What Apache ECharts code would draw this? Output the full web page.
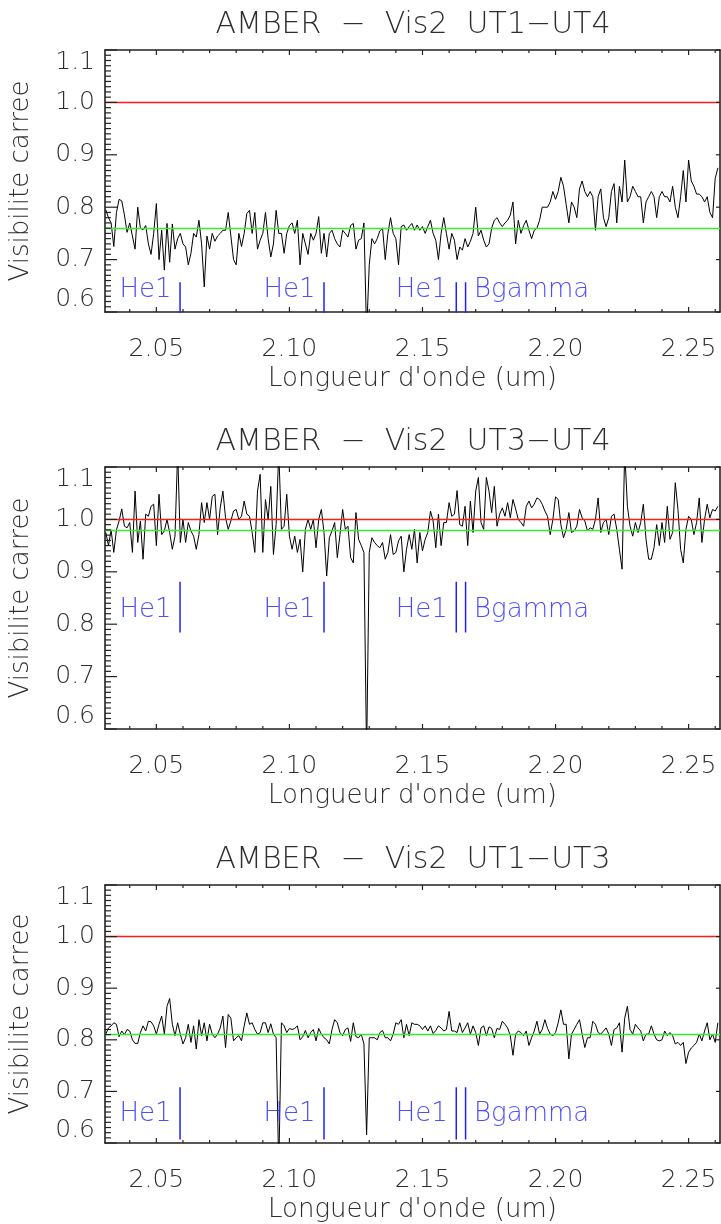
<!DOCTYPE html>
<html><head><meta charset="utf-8">
<script src="https://cdn.jsdelivr.net/npm/echarts@6/dist/echarts.min.js"></script>
<style>html,body{margin:0;padding:0;background:#fff}#c{width:721px;height:1224px}</style>
</head><body><div id="c"></div>
<script>
// spectral channel grid (wavelength, um)
const waveStart = 2.031, waveStep = 0.001;

const titles = ['AMBER  \u2212  Vis2  UT1\u2212UT4', 'AMBER  \u2212  Vis2  UT3\u2212UT4', 'AMBER  \u2212  Vis2  UT1\u2212UT3'];
const xTitle = "Longueur d'onde (um)";
const yTitle = 'Visibilite carree';

const vis2UT1UT4 = [
0.795,0.78,0.77,0.725,0.79,0.815,0.812,0.785,0.752,0.77,
0.745,0.72,0.80,0.76,0.757,0.765,0.73,0.71,0.75,0.807,
0.70,0.756,0.68,0.769,0.695,0.768,0.72,0.74,0.75,0.73,
0.724,0.69,0.712,0.75,0.743,0.775,0.73,0.648,0.745,0.72,
0.75,0.735,0.745,0.75,0.756,0.756,0.79,0.745,0.70,0.69,
0.75,0.725,0.75,0.788,0.794,0.75,0.79,0.72,0.737,0.75,
0.79,0.74,0.705,0.73,0.794,0.75,0.75,0.712,0.75,0.765,
0.77,0.75,0.775,0.69,0.75,0.73,0.71,0.75,0.737,0.75,
0.782,0.712,0.75,0.705,0.75,0.756,0.74,0.73,0.724,0.756,
0.75,0.743,0.765,0.769,0.72,0.737,
0.74,0.77,0.56,0.69,0.74,0.73,0.74,0.755,0.76,0.70,
0.75,0.78,0.75,0.74,0.69,0.763,0.766,0.756,0.763,0.769,
0.756,0.766,0.756,0.763,0.75,0.763,0.775,0.75,0.737,0.70,
0.75,0.78,0.75,0.72,0.75,0.737,0.70,0.724,0.718,0.74,
0.724,0.735,0.75,0.80,0.745,0.756,0.737,0.724,0.73,0.76,
0.775,0.78,0.77,0.763,0.77,0.775,0.785,0.81,0.73,0.775,
0.75,0.765,0.775,0.756,0.74,0.756,0.76,0.775,0.80,0.80,
0.80,0.81,0.83,0.815,0.83,0.857,0.84,0.805,0.77,0.81,
0.80,0.78,0.835,0.85,0.83,0.82,0.83,0.82,0.756,0.82,
0.835,0.78,0.763,0.78,0.83,0.845,0.77,0.84,0.81,0.89,
0.81,0.82,0.84,0.83,0.82,0.82,0.77,0.81,0.82,0.83,
0.82,0.78,0.82,0.83,0.82,0.82,0.81,0.84,0.80,0.78,
0.82,0.87,0.81,0.89,0.85,0.84,0.825,0.825,0.82,0.81,
0.82,0.79,0.78,0.855,0.875
];

const vis2UT3UT4 = [
0.975,0.95,0.98,0.937,0.98,0.997,1.02,0.987,0.984,0.994,
0.937,1.054,0.956,0.997,0.924,1.01,1.006,1.025,1.029,0.95,
1.048,0.971,0.978,1.0,0.975,0.943,0.968,1.13,0.956,1.0,
0.956,0.994,0.978,0.968,0.943,0.971,1.032,0.994,1.032,1.0,
1.044,1.048,0.971,1.022,1.054,1.003,0.981,0.997,1.016,1.019,
1.0,1.006,1.035,1.01,1.006,0.975,0.937,1.054,1.086,0.937,
1.038,1.0,1.063,0.933,0.99,1.13,0.981,0.987,1.048,0.968,
0.943,0.968,0.937,0.962,0.90,0.981,
1.0,0.981,1.0,0.946,
1.0,1.019,0.975,0.892,0.965,0.978,0.994,0.927,0.971,1.019,
0.981,0.987,0.927,0.917,1.013,0.962,0.95,0.937,0.55,0.937,
0.965,0.956,0.95,0.946,0.956,0.924,0.937,0.971,0.933,0.937,
0.959,0.968,0.90,0.943,0.971,0.943,0.981,0.917,0.975,0.94,
0.962,0.975,1.016,0.997,0.946,1.01,0.95,0.994,0.994,1.032,
1.006,1.01,1.055,0.99,0.987,1.025,0.95,1.035,0.975,1.054,
1.08,0.994,0.981,1.08,1.054,1.013,1.063,0.987,1.01,1.022,
1.006,1.032,1.003,1.038,
1.02,1.0,0.994,0.987,1.025,1.035,
1.022,1.029,1.041,1.038,1.029,1.016,1.006,0.971,1.0,1.043,
1.038,0.99,0.965,0.981,1.013,0.975,0.978,0.987,1.019,1.003,
0.997,0.978,0.984,0.981,1.0,1.041,0.975,0.994,1.0,0.971,
1.006,1.01,0.981,0.943,0.905,1.13,1.025,0.987,0.968,0.994,
0.975,0.994,1.029,0.962,0.924,0.924,0.946,0.99,0.95,0.994,
0.956,1.025,0.962,0.975,1.07,1.019,0.943,0.917,0.981,1.006,
1.0,0.971,0.994,1.041,0.956,1.0,1.029,1.003,1.019,1.016,
1.025
];

const vis2UT1UT3 = [
0.811,0.823,0.827,0.833,0.83,0.806,0.817,0.81,0.82,0.817,
0.80,0.793,0.793,0.814,0.827,0.817,0.836,0.835,0.827,0.811,
0.83,0.846,0.811,0.865,0.88,0.83,0.808,0.833,0.811,0.792,
0.804,0.83,0.795,0.827,0.782,0.839,0.808,0.833,0.798,0.83,
0.811,0.804,0.811,0.823,0.846,0.785,0.849,0.842,0.798,0.804,
0.808,0.798,0.827,0.852,0.83,0.833,0.82,0.811,0.814,0.833,
0.833,0.814,0.831,0.811,0.804,0.55,0.833,0.827,0.814,0.822,
0.82,0.822,0.827,0.80,0.806,0.818,
0.804,0.814,0.82,0.798,
0.822,0.811,0.804,0.80,0.792,0.82,0.839,0.833,0.814,0.808,
0.82,0.823,0.797,0.833,0.806,0.804,0.811,0.792,0.616,0.804,
0.804,0.804,0.80,0.814,0.818,0.804,0.804,0.798,0.811,0.833,
0.83,0.839,0.804,0.83,0.808,0.833,0.83,0.83,0.827,0.82,
0.827,0.817,0.827,0.812,0.818,0.827,0.823,0.817,0.82,0.855,
0.817,0.817,0.814,0.833,0.814,0.823,0.833,0.811,0.827,0.814,
0.789,0.823,0.827,0.808,0.825,0.822,0.804,0.822,0.82,0.836,
0.83,0.823,0.808,0.77,
0.811,0.817,0.814,0.808,0.817,0.789,
0.804,0.817,0.836,0.811,0.82,0.839,0.822,0.811,0.808,0.814,
0.833,0.858,0.83,0.83,0.763,0.811,0.82,0.83,0.839,0.811,
0.785,0.804,0.804,0.836,0.83,0.814,0.811,0.817,0.823,0.811,
0.789,0.82,0.823,0.833,0.776,0.842,0.865,0.82,0.811,0.83,
0.823,0.817,0.798,0.811,0.811,0.827,0.811,0.80,0.798,0.80,
0.817,0.808,0.814,0.808,0.792,0.795,0.789,0.795,0.754,0.776,
0.784,0.789,0.795,0.811,0.798,0.817,0.833,0.80,0.811,0.795,
0.833
];

const meanLevels = [0.764, 0.983, 0.809];
const refLevel = 1.0;

const lineNames = ['He1', 'He1', 'He1', 'Bgamma'];
const lineWaves = [2.0589, 2.1130, 2.1627, 2.1662];
const markerTop = [0.657, 0.881, 0.708];
const markerBottom = [0.55, 0.784, 0.607];
const markerTextY = [0.641, 0.826, 0.656];

const xMin = 2.0307, xMax = 2.2618;
const xMajorTicks = [2.05, 2.10, 2.15, 2.20, 2.25];
const xMinorTicks = [2.04, 2.06, 2.07, 2.08, 2.09, 2.11, 2.12, 2.13, 2.14, 2.16, 2.17, 2.18, 2.19, 2.21, 2.22, 2.23, 2.24, 2.26];
const yMin = 0.6, yMax = 1.1, yStep = 0.1;
const yMajorTicks = [0.6, 0.7, 0.8, 0.9, 1.0, 1.1];
const yMinorTicks = [
0.61,0.62,0.63,0.64,0.65,0.66,0.67,0.68,0.69,
0.71,0.72,0.73,0.74,0.75,0.76,0.77,0.78,0.79,
0.81,0.82,0.83,0.84,0.85,0.86,0.87,0.88,0.89,
0.91,0.92,0.93,0.94,0.95,0.96,0.97,0.98,0.99,
1.01,1.02,1.03,1.04,1.05,1.06,1.07,1.08,1.09];

const panelValues = [vis2UT1UT4, vis2UT3UT4, vis2UT1UT3];
const gridTops = [50, 467, 885];
const titleY = [25, 442, 860];
const gridH = 262;

const font = "'DejaVu Sans', sans-serif";
const ink = '#222';
const textInk = '#2e2e2e';
const blue = '#2020ff';
const fw = 200;

const chart = echarts.init(document.getElementById('c'), null, {renderer: 'canvas'});
const grid = [], xAxis = [], yAxis = [], series = [], graphic = [];

// tick marks drawn through the axis scales
function tickSeries(xi, yi, vals, kind, lenA, lenB) {
  return {
    type: 'custom', xAxisIndex: xi, yAxisIndex: yi, clip: false, silent: true, z: 6,
    data: vals.map(v => [v, v]),
    renderItem: (params, api) => {
      const v = api.value(0);
      const st = {stroke: ink, lineWidth: 1.2};
      if (kind === 'x') {
        const b = api.coord([v, yMin]), t = api.coord([v, yMax]);
        return {type: 'group', children: [
          {type: 'line', shape: {x1: b[0], y1: b[1], x2: b[0], y2: b[1] - lenA}, style: st},
          {type: 'line', shape: {x1: t[0], y1: t[1], x2: t[0], y2: t[1] + lenA}, style: st}]};
      }
      const l = api.coord([xMin, v]), r = api.coord([xMax, v]);
      const ch = [{type: 'line', shape: {x1: l[0], y1: l[1], x2: l[0] + lenA, y2: l[1]}, style: st}];
      if (lenB > 0) ch.push({type: 'line', shape: {x1: r[0], y1: r[1], x2: r[0] - lenB, y2: r[1]}, style: st});
      return {type: 'group', children: ch};
    }
  };
}

panelValues.forEach((vals, p) => {
  const waves = vals.map((_, i) => +(waveStart + i * waveStep).toFixed(4));
  grid.push({left: 105, right: 1, top: gridTops[p], height: gridH});
  const xi = xAxis.length;
  const base = {gridIndex: p, type: 'value', min: xMin, max: xMax, splitLine: {show: false}, axisTick: {show: false}};
  xAxis.push(Object.assign({}, base, {
    position: 'bottom',
    axisLine: {show: true, onZero: false, lineStyle: {color: ink, width: 1.6}},
    axisLabel: {show: true, customValues: xMajorTicks, formatter: v => v.toFixed(2), margin: 25,
      fontSize: 25, fontFamily: font, fontWeight: fw, color: textInk},
    name: xTitle, nameLocation: 'middle', nameGap: 54,
    nameTextStyle: {fontSize: 26, fontFamily: font, fontWeight: fw, color: textInk}
  }));
  xAxis.push(Object.assign({}, base, {
    position: 'top',
    axisLine: {show: true, onZero: false, lineStyle: {color: ink, width: 1.6}},
    axisLabel: {show: false}
  }));

  const yi = yAxis.length;
  yAxis.push({
    gridIndex: p, type: 'value', min: yMin, max: yMax, interval: yStep, position: 'left',
    axisLine: {show: true, onZero: false, lineStyle: {color: ink, width: 1.6}},
    axisTick: {show: false}, minorTick: {show: false},
    axisLabel: {formatter: v => v.toFixed(1), margin: 10, fontSize: 25, fontFamily: font, fontWeight: fw, color: textInk,
      verticalAlignMinLabel: 'bottom', verticalAlignMaxLabel: 'top'},
    splitLine: {show: false}, minorSplitLine: {show: false},
    name: yTitle, nameLocation: 'middle', nameGap: 71, nameRotate: 90,
    nameTextStyle: {fontSize: 26, fontFamily: font, fontWeight: fw, color: textInk}
  });
  yAxis.push({
    gridIndex: p, type: 'value', min: yMin, max: yMax, interval: yStep, position: 'right',
    axisLine: {show: true, onZero: false, lineStyle: {color: ink, width: 1.6}},
    axisTick: {show: false}, axisLabel: {show: false}, splitLine: {show: false}
  });

  series.push({
    type: 'line', xAxisIndex: xi, yAxisIndex: yi, data: waves.map((w, i) => [w, vals[i]]),
    symbol: 'none', clip: true, z: 3, lineStyle: {color: '#000', width: 1}, itemStyle: {color: '#000'},
    markLine: {silent: true, symbol: 'none', label: {show: false}, animation: false,
      data: [
        {yAxis: refLevel, lineStyle: {color: '#ff1a1a', width: 1.3, type: 'solid'}},
        {yAxis: meanLevels[p], lineStyle: {color: '#33ee33', width: 1.3, type: 'solid'}}
      ]}
  });

  lineWaves.forEach((w) => {
    series.push({
      type: 'line', xAxisIndex: xi, yAxisIndex: yi, clip: true, symbol: 'none', z: 4,
      data: [[w, markerBottom[p]], [w, markerTop[p]]],
      lineStyle: {color: blue, width: 1.5}
    });
  });
  series.push({
    type: 'scatter', xAxisIndex: xi, yAxisIndex: yi, symbolSize: 1, z: 4,
    itemStyle: {color: 'rgba(0,0,0,0)'},
    data: lineWaves.map((w, j) => ({value: [w, markerTextY[p]], name: lineNames[j],
      label: {position: j === lineWaves.length - 1 ? 'right' : 'left'}})),
    label: {show: true, formatter: '{b}', distance: 8, color: blue, fontSize: 26, fontFamily: font, fontWeight: fw}
  });

  series.push(tickSeries(xi, yi, xMajorTicks, 'x', 5, 0));
  series.push(tickSeries(xi, yi, xMinorTicks, 'x', 3, 0));
  series.push(tickSeries(xi, yi, yMajorTicks, 'y', 12, 4));
  series.push(tickSeries(xi, yi, yMinorTicks, 'y', 6, 0));

  graphic.push({type: 'text', x: 413, y: titleY[p],
    style: {text: titles[p], fontSize: 30, fontFamily: font, fontWeight: fw, fill: textInk, align: 'center', verticalAlign: 'middle'}});
});

chart.setOption({animation: false, backgroundColor: '#fff', grid, xAxis, yAxis, series, graphic});
</script>
</body></html>
